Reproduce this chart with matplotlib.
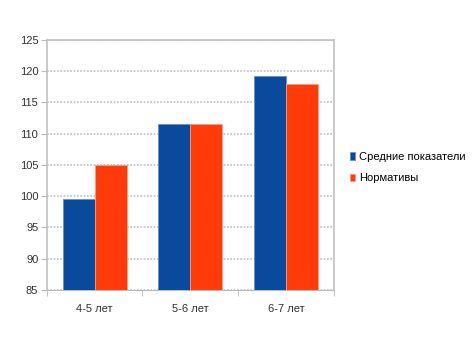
import numpy as np
import matplotlib.pyplot as plt

plt.rcParams['font.family'] = ['Liberation Sans', 'DejaVu Sans']

categories = ['4-5 лет', '5-6 лет', '6-7 лет']
avg_values = [99.6, 111.5, 119.3]
norm_values = [105, 111.5, 118]
series_names = ['Средние показатели', 'Нормативы']

fig = plt.figure(figsize=(4.76, 3.44), dpi=100)
ax = fig.add_axes([0.098, 0.157, 0.604, 0.727])

x = np.arange(len(categories))
w = 1 / 3
ax.bar(x - w / 2, np.array(avg_values) - 85, w, bottom=85, color='#0a4a9c',
       edgecolor='#6a8fc0', linewidth=0.6, label=series_names[0], zorder=3)
ax.bar(x + w / 2, np.array(norm_values) - 85, w, bottom=85, color='#ff3b0a',
       edgecolor='#ff9a80', linewidth=0.6, label=series_names[1], zorder=3)

ax.set_ylim(85, 125)
ax.set_yticks(np.arange(85, 126, 5))
ax.set_xlim(-0.5, 2.5)
ax.set_xticks(x)
ax.set_xticklabels(categories)
ax.set_xticks([-0.5, 0.5, 1.5, 2.5], minor=True)
ax.tick_params(axis='x', which='major', length=0, pad=10)
ax.tick_params(axis='x', which='minor', length=4, color='#bbbbbb')
ax.tick_params(axis='y', length=4, color='#bbbbbb', pad=2)
ax.tick_params(labelsize=8, labelcolor='#333333')

ax.yaxis.grid(True, color='#c0c0c0', linestyle=(0, (1, 1)), linewidth=1.2, zorder=0)
for side in ['left', 'right', 'top']:
    ax.spines[side].set_color('#c0c0c0')
    ax.spines[side].set_linestyle((0, (1, 1)))
    ax.spines[side].set_linewidth(1.2)
ax.spines['bottom'].set_color('#bbbbbb')

ax.legend(loc='center left', bbox_to_anchor=(1.02, 0.49), frameon=False,
          fontsize=8, handlelength=0.5, handleheight=0.6, handletextpad=0.3,
          labelspacing=1.0)

fig.savefig('out.png', dpi=100)
